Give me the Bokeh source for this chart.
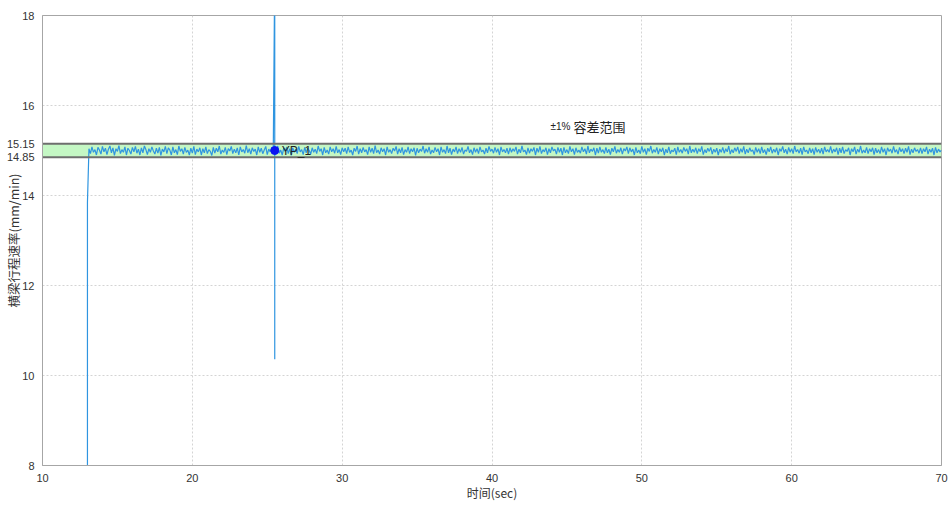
from bokeh.plotting import figure
from bokeh.models import FixedTicker, Range1d, Label, ColumnDataSource
from bokeh.core.properties import value
from bokeh.embed import file_html
from bokeh.resources import INLINE

# ---------------- data ----------------
x_ticks = [10, 20, 30, 40, 50, 60, 70]
y_ticks = [8, 10, 12, 14, 14.85, 15.15, 16, 18]
y_tick_labels = ["8", "10", "12", "14", "14.85", "15.15", "16", "18"]
tol_low = 14.85
tol_high = 15.15
tol_text_pm = "±1%"
tol_text = "容差范围"

# start-up of the test
start_time = [13.0, 13.0]
start_speed = [0.0, 13.85]

# steady run, sampled every 0.1 s from 13.1 s to 70 s
sample_start = 13.1
sample_step = 0.1
speed = [
    15.04, 14.93, 15.08, 14.96, 15.02, 14.90, 15.07, 15.01, 14.92, 15.09, 14.97, 15.05, 14.91, 15.03, 15.10,
    14.95, 15.06, 14.89, 15.04, 14.98, 15.11, 14.93, 15.02, 14.96, 15.08, 14.90, 15.05, 15.00, 14.92, 15.07,
    14.97, 15.09, 14.94, 15.03, 14.90, 15.06, 14.95, 15.10, 15.02, 14.91, 15.04, 14.96, 15.08, 14.99, 14.92,
    15.05, 14.94, 15.07, 14.89, 15.03, 14.97, 15.09, 14.93, 15.06, 15.01, 14.90, 15.08, 14.95, 15.02, 14.91,
    15.10, 14.98, 15.04, 14.92, 15.07, 14.96, 15.01, 14.90, 15.05, 14.94, 15.09, 14.91, 15.03, 14.97, 15.06,
    14.90, 15.04, 14.95, 15.08, 14.93, 15.02, 14.98, 14.89, 15.07, 14.94, 15.05, 14.97, 15.10, 14.92, 15.01,
    14.96, 15.07, 14.91, 15.04, 14.99, 15.09, 14.93, 15.03, 14.95, 15.06, 14.90, 15.08, 14.97, 15.02, 14.94,
    15.11, 14.95, 15.04, 14.92, 15.06, 14.98, 15.03, 14.90, 15.08, 14.96, 15.05, 14.93, 15.01, 15.09, 14.91,
    15.03, 14.97, 15.07, 14.92, 15.02, 14.95, 15.10, 14.94, 15.01, 14.90, 15.05, 14.98, 15.08, 14.93, 15.04,
    14.89, 15.06, 14.96, 15.03, 14.93, 15.09, 14.97, 15.02, 14.91, 15.07, 14.95, 15.05, 15.00, 14.92, 15.06,
    14.96, 15.03, 14.93, 15.10, 14.98, 15.04, 14.90, 15.07, 14.95, 15.01, 14.92, 15.08, 14.97, 15.04, 14.94,
    15.09, 14.95, 15.02, 14.91, 15.06, 14.97, 15.05, 14.93, 15.08, 14.96, 15.01, 14.90, 15.05, 14.98, 15.10,
    14.92, 15.04, 14.95, 15.07, 14.97, 15.02, 14.91, 15.08, 14.96, 15.05, 14.93, 15.11, 14.95, 15.01, 14.92,
    15.06, 14.97, 15.04, 14.90, 15.08, 14.96, 15.02, 14.93, 15.05, 14.99, 15.09, 14.92, 15.04, 14.95, 15.07,
    14.91, 15.02, 14.96, 15.08, 14.93, 15.04, 14.97, 15.06, 14.89, 15.05, 14.95, 15.03, 14.98, 15.10, 14.94,
    15.04, 14.96, 15.08, 14.92, 15.01, 14.95, 15.07, 14.97, 15.04, 14.90, 15.08, 14.96, 15.02, 14.93, 15.10,
    14.95, 15.05, 14.91, 15.03, 14.97, 15.08, 14.93, 15.04, 14.96, 15.07, 14.92, 15.01, 14.98, 15.09, 14.95,
    15.02, 14.91, 15.06, 14.96, 15.04, 14.93, 15.08, 14.97, 15.01, 14.92, 15.05, 14.95, 15.09, 14.98, 15.03,
    14.94, 15.07, 14.96, 15.04, 14.90, 15.08, 14.97, 15.02, 14.95, 15.05, 14.92, 15.06, 14.96, 15.04, 14.98,
    15.08, 14.92, 15.03, 14.95, 15.10, 14.97, 15.01, 14.91, 15.06, 14.94, 15.04, 14.98, 15.07, 14.90, 15.05,
    14.96, 15.09, 14.93, 15.02, 14.97, 15.06, 14.91, 15.04, 14.95, 15.08, 14.99, 15.03, 14.92, 15.07, 14.96,
    15.05, 14.90, 15.07, 14.95, 15.02, 14.93, 15.09, 14.97, 15.04, 14.91, 15.06, 14.96, 15.01, 14.94, 15.08,
    14.97, 15.04, 14.92, 15.10, 14.95, 15.03, 14.98, 15.06, 14.90, 15.05, 14.94, 15.08, 14.96, 15.02, 14.93,
    15.07, 14.95, 15.03, 14.91, 15.05, 14.97, 15.09, 14.94, 15.02, 14.96, 15.06, 14.92, 15.04, 14.99, 15.08,
    14.93, 15.06, 14.97, 15.03, 14.90, 15.07, 14.95, 15.01, 14.93, 15.09, 14.96, 15.04, 14.91, 15.05, 14.98,
    15.10, 14.94, 15.02, 14.96, 15.07, 14.92, 15.04, 14.97, 15.06, 14.90, 15.03, 14.95, 15.08, 14.93, 15.01,
    14.97, 15.05, 14.91, 15.08, 14.96, 15.02, 14.94, 15.07, 14.98, 15.04, 14.92, 15.10, 14.95, 15.03, 14.96,
    15.06, 14.93, 15.04, 14.97, 15.09, 14.91, 15.02, 14.95, 15.05, 14.98, 15.07, 14.92, 15.03, 14.96, 15.05,
    14.90, 15.03, 14.96, 15.07, 14.94, 15.04, 14.97, 15.10, 14.92, 15.02, 14.95, 15.06, 14.98, 15.08, 14.93,
    15.04, 14.96, 15.09, 14.92, 15.03, 14.95, 15.06, 14.98, 15.01, 14.91, 15.07, 14.96, 15.04, 14.93, 15.08,
    14.95, 15.02, 14.91, 15.05, 14.97, 15.08, 14.94, 15.03, 14.96, 15.06, 14.90, 15.04, 14.98, 15.09, 14.95,
    15.03, 14.92, 15.07, 14.96, 15.04, 14.93, 15.10, 14.97, 15.02, 14.94, 15.05, 14.91, 15.08, 14.97, 15.01,
    14.93, 15.06, 14.95, 15.04, 14.91, 15.07, 14.96, 15.03, 14.94, 15.05, 14.92, 15.08, 14.97, 15.02, 14.96,
    15.09, 14.94, 15.03, 14.97, 15.06, 14.91, 15.05, 14.95, 15.08, 14.93, 15.02, 14.98, 15.06, 14.90, 15.04,
    14.97, 15.08, 14.92, 15.03, 14.96, 15.10, 14.94, 15.01, 14.95, 15.07, 14.93, 15.04, 14.97, 15.06, 14.91,
    15.05, 14.95, 15.02, 14.93, 15.08, 14.96, 15.04, 14.90, 15.06, 14.98, 15.03, 14.94, 15.09, 14.96, 15.02,
    14.92, 15.07, 14.97, 15.04, 14.93, 15.05, 14.96, 15.09, 14.91, 15.03, 14.95, 15.06, 14.98, 15.02, 14.94,
    15.06, 14.93, 15.04, 14.97, 15.08, 14.92, 15.03, 14.96, 15.05, 14.90, 15.07, 14.95, 15.03, 14.97, 15.01,
]

# glitch at 25.5 s
spike_time = [25.5, 25.5]
spike_speed = [19.0, 10.36]

# marked point
mark_time = [25.5]
mark_speed = [15.0]
mark_name = ["YP_1"]

# ---------------- assemble series ----------------
grid_time = [round(sample_start + i * sample_step, 2) for i in range(len(speed))]
times = list(start_time)
vals = list(start_speed)
inserted = False
for t, v in zip(grid_time, speed):
    if not inserted and t >= spike_time[0]:
        times += spike_time
        vals += spike_speed
        inserted = True
    times.append(t)
    vals.append(v)

FONT = "Liberation Sans"
CJK = "Noto Sans CJK SC"

p = figure(width=948, height=503,
           x_range=Range1d(x_ticks[0], x_ticks[-1]), y_range=Range1d(y_ticks[0], y_ticks[-1]),
           output_backend="svg", toolbar_location=None,
           min_border_left=41, min_border_right=7, min_border_top=15, min_border_bottom=30,
           background_fill_color="white", border_fill_color="white")

p.outline_line_color = "#a6a6a6"
p.outline_line_width = 1

# tolerance band
p.varea(x=[x_ticks[0], x_ticks[-1]], y1=[tol_low, tol_low], y2=[tol_high, tol_high],
        fill_color="#c4f7c4", fill_alpha=1.0)

# series
p.line(times, vals, line_color="#2f95e0", line_width=1.2)

# band boundaries
for yv in (tol_low, tol_high):
    p.line([x_ticks[0], x_ticks[-1]], [yv, yv], line_color="#6e6e6e", line_width=2)

# marker
src = ColumnDataSource(dict(x=mark_time, y=mark_speed, name=mark_name))
p.scatter("x", "y", source=src, size=8, fill_color="#0a14f0", line_color="#0a14f0")
p.text("x", "y", text="name", source=src, x_offset=7, text_baseline="middle",
       text_font=value(FONT), text_font_size="12px", text_color="#222222")

# annotation
p.add_layout(Label(x=43.9, y=15.53, text=tol_text_pm, text_font=FONT, text_font_size="10px",
                   text_color="#222222", text_baseline="middle"))
p.add_layout(Label(x=43.9, y=15.53, x_offset=23, text=tol_text, text_font=CJK, text_font_size="13px",
                   text_color="#222222", text_baseline="middle"))

# axes
p.xaxis.ticker = FixedTicker(ticks=x_ticks)
p.yaxis.ticker = FixedTicker(ticks=y_ticks)
p.yaxis.major_label_overrides = {float(t): s for t, s in zip(y_ticks, y_tick_labels)}
for ax in (p.xaxis[0], p.yaxis[0]):
    ax.axis_line_color = "#a6a6a6"
    ax.major_tick_line_color = None
    ax.minor_tick_line_color = None
    ax.major_label_text_font = FONT
    ax.major_label_text_font_size = "11px"
    ax.major_label_text_color = "#333333"
    ax.axis_label_text_font = CJK
    ax.axis_label_text_font_style = "normal"
    ax.axis_label_text_color = "#333333"

p.xaxis.axis_label = "时间(sec)"
p.yaxis.axis_label = "横梁行程速率(mm/min)"
p.xaxis.axis_label_text_font_size = "12px"
p.yaxis.axis_label_text_font_size = "12.5px"
p.xaxis.major_label_standoff = 2
p.xaxis.axis_label_standoff = -1
p.yaxis.major_label_standoff = 2
p.yaxis.axis_label_standoff = -19

# grids
p.xgrid.ticker = FixedTicker(ticks=x_ticks[1:-1])
p.ygrid.ticker = FixedTicker(ticks=[10, 12, 14, 16])
for g in (p.xgrid[0], p.ygrid[0]):
    g.grid_line_color = "#d4d4d4"
    g.grid_line_dash = "2 2"
    g.grid_line_width = 1

open("out.html", "w").write(file_html(p, INLINE))
